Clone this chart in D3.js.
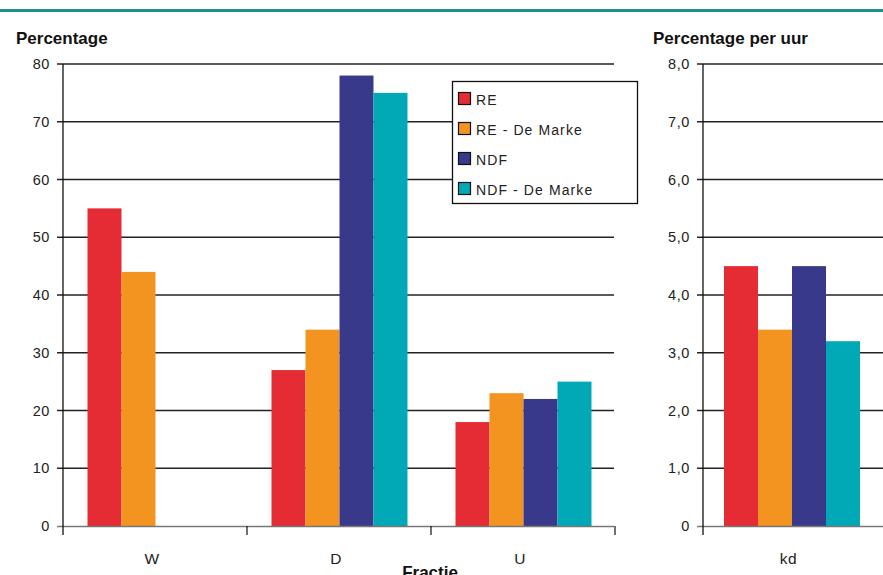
<!DOCTYPE html>
<html>
<head>
<meta charset="utf-8">
<script src="https://cdn.jsdelivr.net/npm/d3@7"></script>
<style>
  body { margin: 0; background: #fff; }
  svg { display: block; font-family: "Liberation Sans", Arial, sans-serif; }
</style>
</head>
<body>
<svg id="chart" width="883" height="575"></svg>
<script>
// Fractions and series
const fractions = ["W", "D", "U"];
const seriesNames = ["RE", "RE - De Marke", "NDF", "NDF - De Marke"];
const seriesColors = ["#E52B33", "#F39420", "#38398A", "#00A9B5"];
const reValues = [55, 27, 18];
const reDeMarkeValues = [44, 34, 23];
const ndfValues = [null, 78, 22];
const ndfDeMarkeValues = [null, 75, 25];

// Degradation rate (kd)
const rateCategories = ["kd"];
const rateValues = [4.5, 3.4, 4.5, 3.2];

const leftTicks = [0, 10, 20, 30, 40, 50, 60, 70, 80];
const rightTicks = [0, 1, 2, 3, 4, 5, 6, 7, 8];

const svg = d3.select("#chart");

// Top rule
svg.append("rect").attr("x", 0).attr("y", 9).attr("width", 883).attr("height", 3).attr("fill", "#1F8E90");

const yTop = 64, yBottom = 526;

function drawPanel(opts) {
  const g = svg.append("g");
  const x = d3.scaleBand().domain(opts.categories).range([opts.x0, opts.x1]);
  const y = d3.scaleLinear().domain([0, opts.max]).range([yBottom, yTop]);
  const inner = d3.scaleBand().domain(d3.range(4)).range([0, 136]);

  // gridlines
  g.selectAll(".grid").data(opts.ticks.filter(t => t > 0)).join("line")
    .attr("x1", opts.x0 - 6).attr("x2", opts.gridEnd)
    .attr("y1", d => y(d)).attr("y2", d => y(d))
    .attr("stroke", "#222").attr("stroke-width", 1.3);

  // bars
  opts.categories.forEach((c, ci) => {
    const bx = x(c) + (x.bandwidth() - 136) / 2 + 0.5;
    opts.series.forEach((vals, si) => {
      const v = vals[ci];
      if (v == null) return;
      g.append("rect")
        .attr("x", bx + inner(si)).attr("width", inner.bandwidth())
        .attr("y", y(v)).attr("height", y(0) - y(v))
        .attr("fill", seriesColors[si]);
    });
  });

  // baseline
  g.append("line").attr("x1", opts.x0 - 6).attr("x2", opts.gridEnd)
    .attr("y1", yBottom + 0.5).attr("y2", yBottom + 0.5)
    .attr("stroke", "#777").attr("stroke-width", 1.5);

  // y axis line
  g.append("line").attr("x1", opts.x0).attr("x2", opts.x0)
    .attr("y1", yTop).attr("y2", yBottom + 9)
    .attr("stroke", "#111").attr("stroke-width", 1.3);

  // category separators
  if (opts.separators) {
    opts.categories.forEach(c => {
      const xx = x(c) + x.bandwidth();
      g.append("line").attr("x1", xx).attr("x2", xx)
        .attr("y1", yBottom).attr("y2", yBottom + 9)
        .attr("stroke", "#111").attr("stroke-width", 1.2);
    });
  }

  // tick labels
  g.selectAll(".tl").data(opts.ticks).join("text")
    .attr("x", opts.x0 - 13).attr("y", d => y(d) + 5)
    .attr("text-anchor", "end").attr("font-size", 14.5)
    .attr("letter-spacing", 0.6).attr("fill", "#222")
    .text(opts.fmt);

  // category labels
  g.selectAll(".cl").data(opts.categories).join("text")
    .attr("x", d => x(d) + x.bandwidth() / 2 - 3).attr("y", 564)
    .attr("text-anchor", "middle").attr("font-size", 15.5).attr("fill", "#222")
    .attr("letter-spacing", 0.5)
    .text(d => d);

  // title
  g.append("text").attr("x", opts.titleX).attr("y", 44)
    .attr("font-size", 17).attr("font-weight", "bold").attr("fill", "#111")
    .text(opts.title);
}

drawPanel({
  categories: fractions, x0: 63, x1: 615, gridEnd: 614, max: 80,
  ticks: leftTicks, fmt: d => d, separators: true,
  series: [reValues, reDeMarkeValues, ndfValues, ndfDeMarkeValues],
  title: "Percentage", titleX: 16
});

drawPanel({
  categories: rateCategories, x0: 703, x1: 880, gridEnd: 883, max: 8,
  ticks: rightTicks, fmt: d => d === 0 ? "0" : d3.format(".1f")(d).replace(".", ","),
  separators: false,
  series: rateValues.map(v => [v]),
  title: "Percentage per uur", titleX: 653
});

// x axis title
svg.append("text").attr("x", 430).attr("y", 578)
  .attr("text-anchor", "middle").attr("font-size", 17).attr("font-weight", "bold")
  .attr("fill", "#111").text("Fractie");

// legend
const lg = svg.append("g").attr("transform", "translate(452,81)");
lg.append("rect").attr("x", 0.5).attr("y", 0.5).attr("width", 185).attr("height", 122)
  .attr("fill", "#fff").attr("stroke", "#111").attr("stroke-width", 1.3);
seriesNames.forEach((name, i) => {
  const row = lg.append("g").attr("transform", `translate(6,${11 + i * 30})`);
  row.append("rect").attr("x", 0.5).attr("y", 0.5).attr("width", 12).attr("height", 12)
    .attr("fill", seriesColors[i]).attr("stroke", "#111").attr("stroke-width", 1.2);
  row.append("text").attr("x", 18).attr("y", 12.5).attr("font-size", 14)
    .attr("letter-spacing", 1.1).attr("fill", "#222").text(name);
});
</script>
</body>
</html>
